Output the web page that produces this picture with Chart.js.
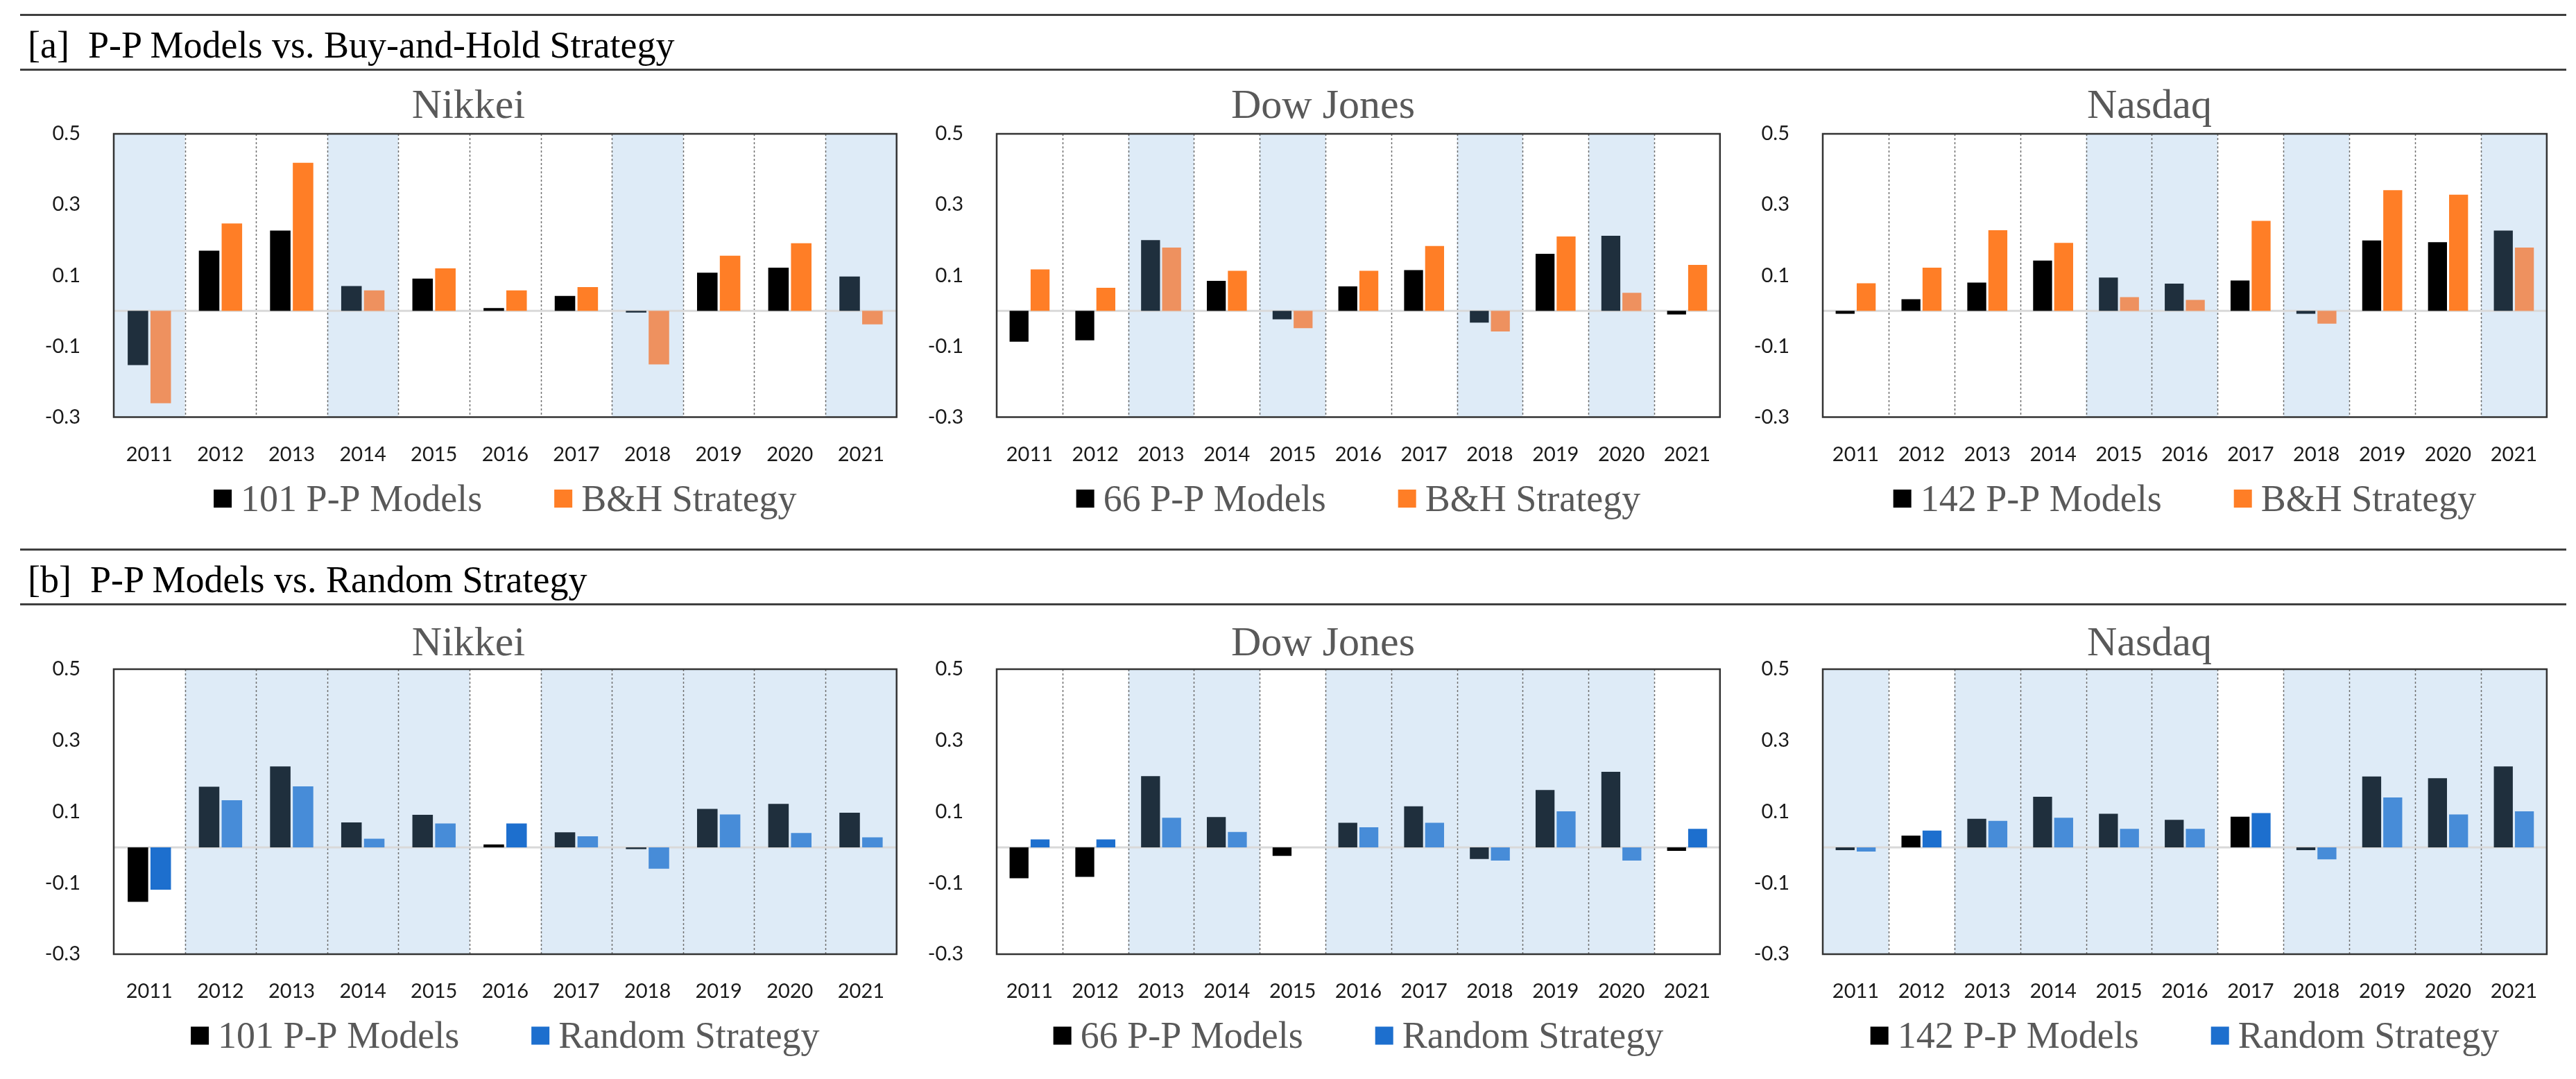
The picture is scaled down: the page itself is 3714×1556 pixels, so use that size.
<!DOCTYPE html>
<html>
<head>
<meta charset="utf-8">
<title>P-P Models vs. B&amp;H and Random Strategy</title>
<script src="https://cdn.jsdelivr.net/npm/chart.js@4.4.1/dist/chart.umd.min.js"></script>
<style>
  html, body { margin: 0; padding: 0; background: #fff; }
  #page { position: relative; width: 3714px; height: 1556px; overflow: hidden; background: #fff; }
  .rule { position: absolute; left: 29px; width: 3671px; height: 3px; background: #3f3f3f; }
  .heading { position: absolute; left: 40px; font-family: 'Liberation Serif', 'Times New Roman', serif;
             font-size: 54px; line-height: 54px; color: #000; white-space: pre; }
  .panel { position: absolute; }
</style>
</head>
<body>
<div id="page">
  <div class="rule" style="top:20px"></div>
  <div class="heading" style="top:38px">[a]  P-P Models vs. Buy-and-Hold Strategy</div>
  <div class="rule" style="top:99px"></div>

  <div class="rule" style="top:791px"></div>
  <div class="heading" style="top:809px">[b]  P-P Models vs. Random Strategy</div>
  <div class="rule" style="top:870px"></div>
</div>

<script>
// ---------- data ----------
const YEARS   = ['2011','2012','2013','2014','2015','2016','2017','2018','2019','2020','2021'];
const Y_TICKS = [-0.3, -0.1, 0.1, 0.3, 0.5];

const MARKETS      = ['Nikkei', 'Dow Jones', 'Nasdaq'];
const MODEL_COUNTS = [101, 66, 142];

const NIKKEI_PP  = [-0.153, 0.170, 0.227, 0.070, 0.091, 0.008, 0.042, -0.005, 0.108, 0.122, 0.097];
const NIKKEI_BH  = [-0.261, 0.247, 0.418, 0.058, 0.120, 0.058, 0.067, -0.151, 0.156, 0.191, -0.038];
const NIKKEI_RND = [-0.119, 0.132, 0.171, 0.024, 0.067, 0.067, 0.031, -0.060, 0.092, 0.040, 0.028];

const DOW_PP  = [-0.087, -0.083, 0.200, 0.085, -0.024, 0.069, 0.115, -0.033, 0.161, 0.212, -0.010];
const DOW_BH  = [0.117, 0.065, 0.179, 0.113, -0.049, 0.113, 0.183, -0.058, 0.210, 0.051, 0.130];
const DOW_RND = [0.022, 0.022, 0.083, 0.043, 0.000, 0.056, 0.069, -0.037, 0.101, -0.037, 0.052];

const NASDAQ_PP  = [-0.008, 0.033, 0.080, 0.142, 0.094, 0.077, 0.086, -0.008, 0.199, 0.194, 0.227];
const NASDAQ_BH  = [0.078, 0.122, 0.228, 0.192, 0.039, 0.031, 0.254, -0.036, 0.341, 0.328, 0.179];
const NASDAQ_RND = [-0.012, 0.047, 0.074, 0.083, 0.052, 0.052, 0.096, -0.034, 0.140, 0.092, 0.101];

const PP_SERIES  = [NIKKEI_PP, DOW_PP, NASDAQ_PP];
const BH_SERIES  = [NIKKEI_BH, DOW_BH, NASDAQ_BH];
const RND_SERIES = [NIKKEI_RND, DOW_RND, NASDAQ_RND];

// ---------- look ----------
// [normal column, column where P-P beats the other strategy]
const PP_COLORS  = ['#000000', '#1f2f3d'];
const BH_COLORS  = ['#ff7e26', '#ee915f'];
const RND_COLORS = ['#1d6fce', '#478cd8'];
const SHADE      = '#deebf7';
const GREY_TEXT  = '#595959';
const SERIF      = "'Liberation Serif', 'Times New Roman', serif";
const SANS       = "Lato, 'Noto Sans', sans-serif";

// ---------- layout (page pixels) ----------
const COLS = [
  { left: 164,  right: 1302 },
  { left: 1437, right: 2493 },
  { left: 2628, right: 3685 }
];
const ROWS = [
  { canvasTop: 105, canvasBottom: 765,  titleMid: 154.5, frameTop: 193, frameBottom: 601.5 },
  { canvasTop: 880, canvasBottom: 1556, titleMid: 929,   frameTop: 965, frameBottom: 1376 }
];
const Y_AXIS_W   = 115;
const X_AXIS_H   = 71.3;
const PAD_RIGHT  = 10;
const TITLE_SIZE = 60;
const TITLE_LH   = 1.1;
const LEGEND_DY  = 117.5;

// shading, dashed dividers, zero line, frame and the legend
const panelDecor = {
  id: 'panelDecor',
  beforeDraw(chart) {
    const { ctx, chartArea: a, scales: { x } } = chart;
    const pp = chart.data.datasets[0].data;
    const other = chart.data.datasets[1].data;
    const half = (x.getPixelForValue(1) - x.getPixelForValue(0)) / 2;
    ctx.save();
    ctx.fillStyle = SHADE;
    pp.forEach((v, i) => {
      if (v > other[i]) {
        const cx = x.getPixelForValue(i);
        ctx.fillRect(cx - half, a.top, half * 2, a.bottom - a.top);
      }
    });
    ctx.restore();
  },
  beforeDatasetsDraw(chart) {
    const { ctx, chartArea: a, scales: { x, y } } = chart;
    ctx.save();
    // dashed category dividers
    ctx.strokeStyle = '#6f6f6f';
    ctx.lineWidth = 1.5;
    ctx.setLineDash([3, 3]);
    for (let i = 1; i < chart.data.labels.length; i++) {
      const xb = Math.round((x.getPixelForValue(i - 1) + x.getPixelForValue(i)) / 2) + 0.5;
      ctx.beginPath();
      ctx.moveTo(xb, a.top);
      ctx.lineTo(xb, a.bottom);
      ctx.stroke();
    }
    // zero line
    ctx.setLineDash([]);
    const y0 = y.getPixelForValue(0);
    ctx.strokeStyle = '#d9d9d9';
    ctx.lineWidth = 3;
    ctx.beginPath();
    ctx.moveTo(a.left, y0);
    ctx.lineTo(a.right, y0);
    ctx.stroke();
    ctx.restore();
  },
  afterDatasetsDraw(chart) {
    const { ctx, chartArea: a } = chart;
    ctx.save();
    ctx.strokeStyle = '#333333';
    ctx.lineWidth = 2.5;
    ctx.strokeRect(a.left, a.top, a.right - a.left, a.bottom - a.top);
    ctx.restore();
  },
  afterDraw(chart, args, opts) {
    const { ctx, chartArea: a } = chart;
    const box = 26, gap = 13, itemGap = 104, size = 54;
    ctx.save();
    ctx.font = `${size}px ${SERIF}`;
    const items = chart.data.datasets.map((d, i) => ({ text: d.label, color: opts.colors[i], w: ctx.measureText(d.label).width }));
    const total = items.reduce((s, it) => s + box + gap + it.w, 0) + itemGap * (items.length - 1);
    const cy = a.bottom + LEGEND_DY;
    let x = (a.left + a.right) / 2 - total / 2;
    ctx.textBaseline = 'alphabetic';
    ctx.textAlign = 'left';
    items.forEach(it => {
      ctx.fillStyle = it.color;
      ctx.fillRect(x, cy - box / 2, box, box);
      x += box + gap;
      ctx.fillStyle = GREY_TEXT;
      ctx.fillText(it.text, x, cy + size * 0.662 / 2);
      x += it.w + itemGap;
    });
    ctx.restore();
  }
};

function barColor(pp, other, colors) {
  return c => (pp[c.dataIndex] > other[c.dataIndex] ? colors[1] : colors[0]);
}

function makePanel(r, c, other, otherLabel, otherColors) {
  const row = ROWS[r], col = COLS[c];
  const pp = PP_SERIES[c];

  const left = col.left - Y_AXIS_W;
  const div = document.createElement('div');
  div.className = 'panel';
  div.style.left   = left + 'px';
  div.style.top    = row.canvasTop + 'px';
  div.style.width  = (col.right + PAD_RIGHT - left) + 'px';
  div.style.height = (row.canvasBottom - row.canvasTop) + 'px';
  const canvas = document.createElement('canvas');
  div.appendChild(canvas);
  document.getElementById('page').appendChild(div);

  const titleH  = TITLE_SIZE * TITLE_LH;
  const titleT  = row.titleMid - row.canvasTop - titleH / 2;
  const titleB  = row.frameTop - row.canvasTop - titleT - titleH;

  new Chart(canvas, {
    type: 'bar',
    data: {
      labels: YEARS,
      datasets: [
        { label: `${MODEL_COUNTS[c]} P-P Models`, data: pp,
          backgroundColor: barColor(pp, other, PP_COLORS), borderWidth: 0 },
        { label: otherLabel, data: other,
          backgroundColor: barColor(pp, other, otherColors), borderWidth: 0 }
      ]
    },
    options: {
      responsive: true,
      maintainAspectRatio: false,
      animation: false,
      events: [],
      categoryPercentage: 0.64,
      barPercentage: 0.9,
      layout: { padding: { top: 0, left: 0, right: PAD_RIGHT, bottom: row.canvasBottom - row.frameBottom - X_AXIS_H } },
      plugins: {
        legend: { display: false },
        tooltip: { enabled: false },
        title: {
          display: true,
          text: MARKETS[c],
          color: GREY_TEXT,
          font: { family: SERIF, size: TITLE_SIZE, weight: 'normal', lineHeight: TITLE_LH },
          padding: { top: titleT, bottom: titleB }
        },
        panelDecor: { colors: [PP_COLORS[0], otherColors[0]] }
      },
      scales: {
        x: {
          grid: { display: false, drawTicks: false },
          border: { display: false },
          ticks: { padding: 36.5, color: '#1a1a1a', font: { family: SANS, size: 29 },
                   maxRotation: 0, autoSkip: false },
          afterFit: s => { s.height = X_AXIS_H; }
        },
        y: {
          min: -0.3,
          max: 0.5,
          afterBuildTicks: s => { s.ticks = Y_TICKS.map(v => ({ value: v })); },
          afterFit: s => { s.width = Y_AXIS_W; },
          grid: { display: false, drawTicks: false },
          border: { display: false },
          ticks: { padding: 48, color: '#1a1a1a', font: { family: SANS, size: 29 },
                   callback: v => v.toFixed(1) }
        }
      }
    },
    plugins: [panelDecor]
  });
}

function build() {
  for (let c = 0; c < 3; c++) {
    makePanel(0, c, BH_SERIES[c], 'B&H Strategy', BH_COLORS);
    makePanel(1, c, RND_SERIES[c], 'Random Strategy', RND_COLORS);
  }
}

Promise.all([
  document.fonts.load(`54px 'Liberation Serif'`),
  document.fonts.load('29px Lato')
]).catch(() => {}).then(build);
</script>
</body>
</html>
